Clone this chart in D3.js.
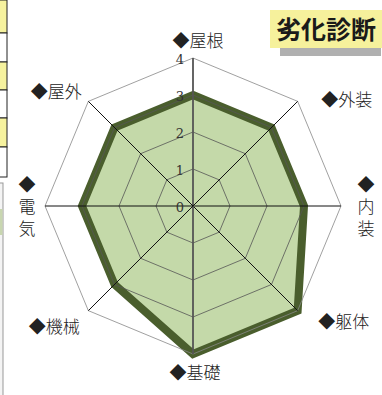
<!DOCTYPE html>
<html>
<head>
<meta charset="utf-8">
<script src="https://cdn.jsdelivr.net/npm/d3@7"></script>
<style>
  body { margin: 0; background: #fff; }
  svg { display: block; }
</style>
</head>
<body>
<div id="chart"></div>
<script>
// chart data
const categories = ['屋根', '外装', '内装', '躯体', '基礎', '機械', '電気', '屋外'];
const values = [3, 3, 3, 4, 4, 3, 3, 3];
const ticks = [0, 1, 2, 3, 4];
const title = '劣化診断';

// label layout: offset from the outer grid vertex, and whether stacked vertically
const labelOffsets = [[5, -17], [49, -1], [25, 3], [46, 11], [2, 19], [-34, 16], [-18, 3], [-32, -9]];
const verticalLabels = [false, false, true, false, false, false, true, false];

const width = 382, height = 395;
const cx = 193, cy = 206, maxR = 148;

const svg = d3.select('#chart').append('svg')
    .attr('width', width)
    .attr('height', height);

// fragments of the neighbouring sheet on the left edge
const leftRows = [0, 33, 62, 90, 118, 147];
svg.selectAll('rect.leftrow')
    .data(leftRows)
    .join('rect')
    .classed('leftrow', true)
    .attr('x', -1).attr('y', d => d)
    .attr('width', 8)
    .attr('height', (d, i) => (i < leftRows.length - 1 ? leftRows[i + 1] : 177) - d)
    .style('fill', (d, i) => i % 2 === 0 ? '#f6f29e' : '#fff')
    .style('stroke', '#222')
    .style('stroke-width', 1);
svg.append('rect')
    .attr('x', -1).attr('y', 183).attr('width', 4).attr('height', 215)
    .style('fill', '#f4f4f4').style('stroke', '#999').style('stroke-width', 1);
svg.append('rect')
    .attr('x', 0).attr('y', 209).attr('width', 2.5).attr('height', 26)
    .style('fill', '#c8d6b0');

// scales
const r = d3.scaleLinear().domain([0, 4]).range([0, maxR]);
const angle = d3.scalePoint().domain(d3.range(categories.length + 1)).range([0, 2 * Math.PI]);
const pt = (i, v) => [cx + r(v) * Math.sin(angle(i)), cy - r(v) * Math.cos(angle(i))];

const line = d3.line().curve(d3.curveLinearClosed);

// data polygon
svg.append('path')
    .attr('d', line(values.map((v, i) => pt(i, v))))
    .style('fill', '#c4d9a9')
    .style('stroke', '#4a5e2d')
    .style('stroke-width', 8)
    .style('stroke-linejoin', 'miter');

// grid octagons
svg.selectAll('path.grid')
    .data(ticks.filter(t => t > 0))
    .join('path')
    .classed('grid', true)
    .attr('d', t => line(categories.map((c, i) => pt(i, t))))
    .style('fill', 'none')
    .style('stroke', t => t === 4 ? '#888' : '#555')
    .style('stroke-width', 0.8);

// spokes
svg.selectAll('line.spoke')
    .data(categories)
    .join('line')
    .classed('spoke', true)
    .attr('x1', cx).attr('y1', cy)
    .attr('x2', (d, i) => pt(i, 4)[0])
    .attr('y2', (d, i) => pt(i, 4)[1])
    .style('stroke', (d, i) => i === 0 || i === 4 ? '#555' : '#111')
    .style('stroke-width', (d, i) => i === 0 || i === 4 ? 1.8 : 1);

// tick labels
svg.selectAll('text.tick')
    .data(ticks)
    .join('text')
    .classed('tick', true)
    .attr('x', cx - 13)
    .attr('y', d => cy - r(d) + 6)
    .text(d => d)
    .style('font-family', '"DejaVu Serif", "Liberation Serif", serif')
    .style('font-size', '13px')
    .style('fill', '#333')
    .style('text-anchor', 'middle');

// category labels
const labels = svg.selectAll('text.label')
    .data(categories)
    .join('text')
    .classed('label', true)
    .attr('transform', (d, i) => {
        const p = pt(i, 4);
        return `translate(${p[0] + labelOffsets[i][0]},${p[1] + labelOffsets[i][1]})`;
    })
    .attr('y', (d, i) => verticalLabels[i] ? 0 : 6)
    .text(d => '◆' + d)
    .style('font-family', '"Noto Sans CJK JP", sans-serif')
    .style('font-size', '17px')
    .style('font-weight', 300)
    .style('fill', '#222')
    .style('text-anchor', 'middle')
    .style('writing-mode', (d, i) => verticalLabels[i] ? 'vertical-rl' : null)
    .style('text-orientation', (d, i) => verticalLabels[i] ? 'upright' : null)
    .style('letter-spacing', (d, i) => verticalLabels[i] ? '5px' : null);

// title box
svg.append('rect')
    .attr('x', 280).attr('y', 44).attr('width', 101).attr('height', 12)
    .style('fill', '#b0b0b0');
svg.append('rect')
    .attr('x', 270).attr('y', 10).attr('width', 113).attr('height', 38)
    .style('fill', '#f6f19c');
svg.append('text')
    .attr('x', 326).attr('y', 39)
    .text(title)
    .style('font-family', '"Noto Sans CJK JP", sans-serif')
    .style('font-size', '25px')
    .style('font-weight', 700)
    .style('fill', '#1a1a1a')
    .style('text-anchor', 'middle');
</script>
</body>
</html>
